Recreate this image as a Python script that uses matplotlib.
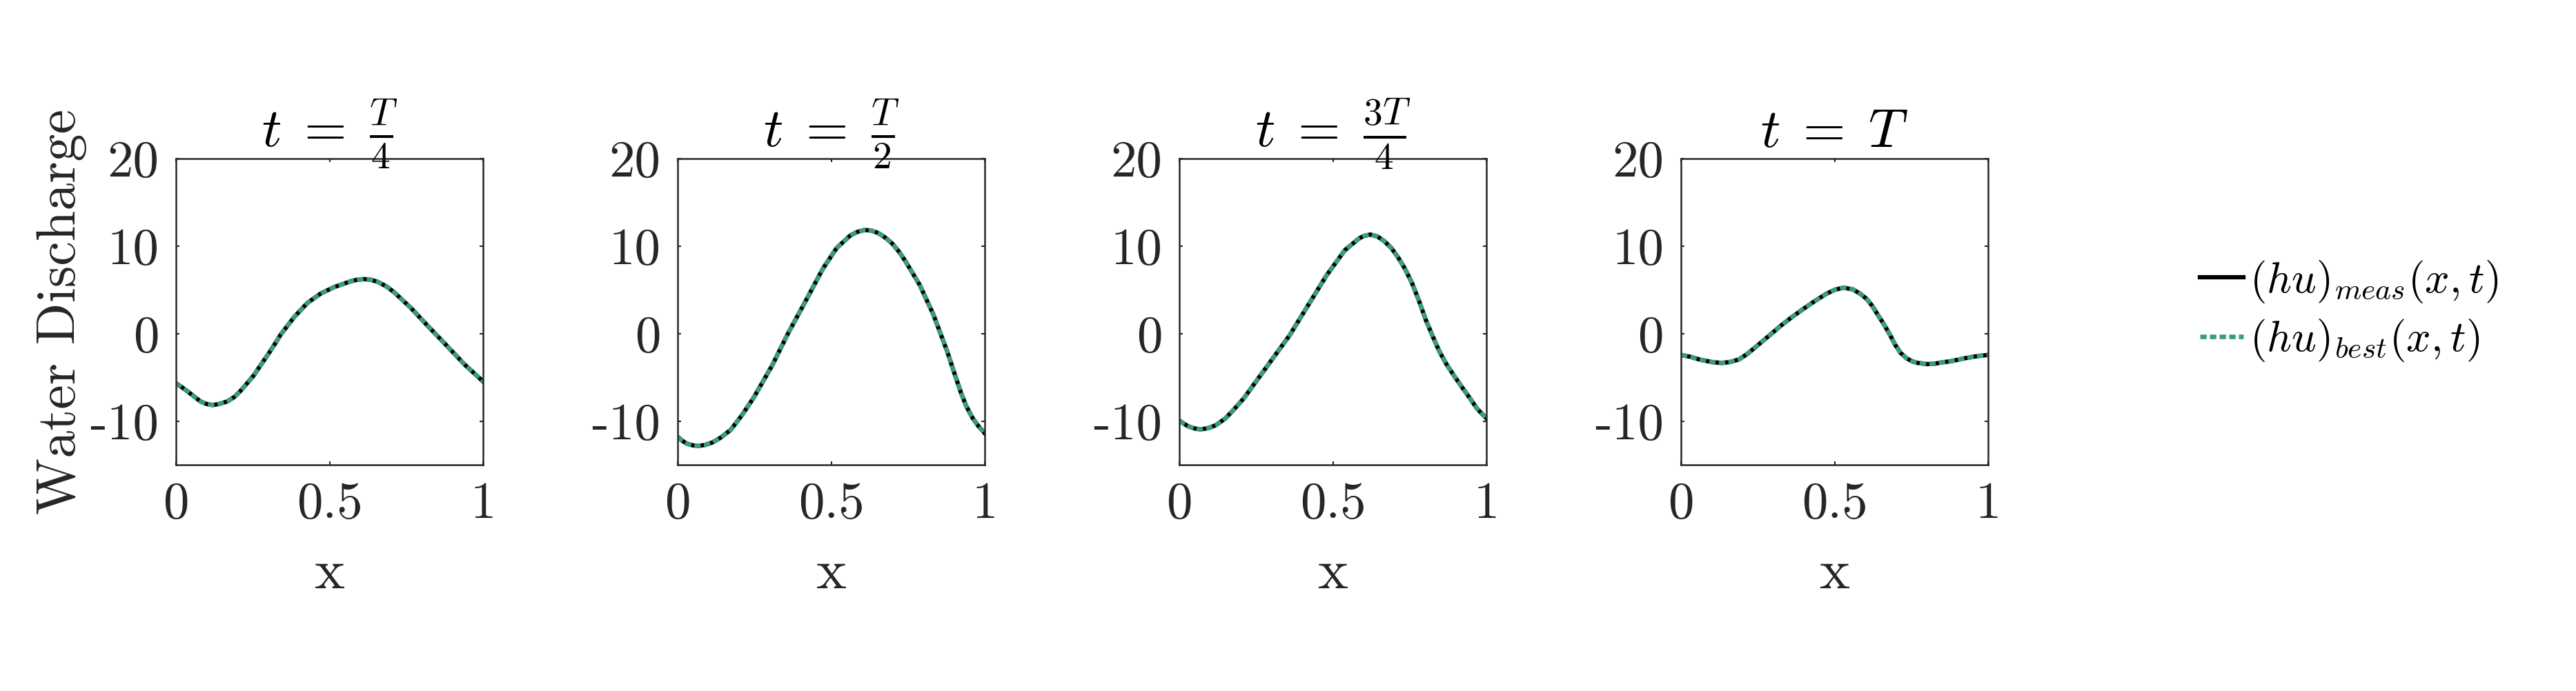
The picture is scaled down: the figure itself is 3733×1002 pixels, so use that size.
import numpy as np
import matplotlib
matplotlib.use("Agg")
import matplotlib.pyplot as plt

plt.rcParams['font.family'] = 'serif'
plt.rcParams['font.serif'] = ['cmr10']
plt.rcParams['mathtext.fontset'] = 'cm'
plt.rcParams['axes.unicode_minus'] = False

titles = [r'$t\;=\;\frac{T}{4}$', r'$t\;=\;\frac{T}{2}$', r'$t\;=\;\frac{3T}{4}$', r'$t\;=\;T$']

# values, one pair of lists per panel
x1 = [0.0, 0.02, 0.036, 0.08, 0.1, 0.12, 0.14, 0.167, 0.19, 0.21, 0.23, 0.254, 0.275,
      0.297, 0.32, 0.341, 0.385, 0.428, 0.472, 0.515, 0.57, 0.59, 0.613, 0.635, 0.657,
      0.685, 0.711, 0.766, 0.82, 0.875, 0.94, 1.0]
hu1 = [-5.67, -6.15, -6.56, -7.76, -8.05, -8.17, -8.05, -7.76, -7.25, -6.56, -5.75, -4.75, -3.65,
       -2.53, -1.3, -0.12, 1.89, 3.5, 4.59, 5.31, 5.99, 6.15, 6.23, 6.15, 5.91,
       5.4, 4.71, 2.9, 0.88, -1.13, -3.54, -5.47]

x2 = [0.0, 0.015, 0.03, 0.05, 0.068, 0.09, 0.113, 0.14, 0.173, 0.21, 0.248, 0.308, 0.36,
      0.413, 0.473, 0.518, 0.563, 0.585, 0.608, 0.63, 0.653, 0.675, 0.698, 0.72, 0.743,
      0.788, 0.833, 0.878, 0.9, 0.923, 0.94, 0.961, 0.98, 1.0]
hu2 = [-11.79, -12.25, -12.58, -12.78, -12.84, -12.72, -12.45, -11.9, -11.0, -9.3, -7.3, -3.63, 0.05,
       3.47, 7.42, 9.79, 11.24, 11.62, 11.84, 11.78, 11.5, 11.0, 10.32, 9.4, 8.21,
       5.58, 2.16, -2.05, -4.4, -6.79, -8.3, -9.68, -10.6, -11.39]

x3 = [0.0, 0.015, 0.029, 0.05, 0.07, 0.095, 0.119, 0.15, 0.179, 0.21, 0.239, 0.299, 0.359,
      0.419, 0.479, 0.539, 0.584, 0.6, 0.622, 0.645, 0.667, 0.69, 0.712, 0.735, 0.757,
      0.78, 0.802, 0.825, 0.847, 0.87, 0.892, 0.92, 0.945, 0.97, 1.0]
hu3 = [-9.95, -10.3, -10.6, -10.85, -10.95, -10.8, -10.47, -9.7, -8.63, -7.4, -6.0, -3.1, -0.21,
       3.21, 6.63, 9.53, 10.84, 11.15, 11.32, 11.1, 10.58, 9.8, 8.74, 7.4, 5.84,
       3.8, 1.63, -0.3, -2.05, -3.5, -4.68, -6.1, -7.32, -8.6, -9.68]

x4 = [0.0, 0.03, 0.061, 0.1, 0.132, 0.16, 0.188, 0.215, 0.248, 0.285, 0.323, 0.36, 0.398,
      0.435, 0.472, 0.5, 0.529, 0.56, 0.585, 0.605, 0.622, 0.64, 0.66, 0.68, 0.697,
      0.715, 0.735, 0.755, 0.772, 0.802, 0.825, 0.847, 0.88, 0.922, 0.96, 1.0]
hu4 = [-2.44, -2.65, -2.97, -3.25, -3.36, -3.25, -2.97, -2.35, -1.39, -0.3, 0.84, 1.85, 2.81,
       3.7, 4.52, 5.0, 5.25, 5.05, 4.52, 3.95, 3.2, 2.2, 1.1, -0.1, -1.26,
       -2.2, -2.84, -3.2, -3.36, -3.49, -3.45, -3.31, -3.15, -2.84, -2.6, -2.44]

xs = [x1, x2, x3, x4]
hu_meas = [hu1, hu2, hu3, hu4]
hu_best = [hu1, hu2, hu3, hu4]  # best fit lies on top of the measurement

xticks = [0, 0.5, 1]
xticklabels = ['0', '0.5', '1']
yticks = [-10, 0, 10, 20]
yticklabels = ['-10', '0', '10', '20']

green = '#3a9e74'
axcol = '#262626'

W, H = 3733, 1002
fig = plt.figure(figsize=(W / 300, H / 300), dpi=300)

lefts = [255, 982, 1709, 2436]
for i in range(4):
    ax = fig.add_axes([lefts[i] / W, 1 - 674 / H, 445 / W, 444 / H])
    l1, = ax.plot(xs[i], hu_meas[i], color='black', lw=1.5, solid_joinstyle='round')
    l2, = ax.plot(xs[i], hu_best[i], color=green, lw=1.6, linestyle=(0, (1.4, 0.7)))
    ax.set_xlim(0, 1)
    ax.set_ylim(-15, 20)
    ax.set_xticks(xticks)
    ax.set_xticklabels(xticklabels)
    ax.set_yticks(yticks)
    ax.set_yticklabels(yticklabels)
    ax.tick_params(direction='in', top=True, right=True, length=1.3, width=0.5,
                   labelsize=18, colors=axcol, pad=6)
    for s in ax.spines.values():
        s.set_linewidth(0.6)
        s.set_color(axcol)
    ax.set_title(titles[i], fontsize=19, pad=4)
    ax.set_xlabel('x', fontsize=20, color=axcol, labelpad=7)
    if i == 0:
        ax.set_ylabel('Water Discharge', fontsize=19.2, color=axcol)
        ax.yaxis.set_label_coords(-0.29, 0.5)

fig.legend([l1, l2], [r'$(hu)_{meas}(x,t)$', r'$(hu)_{best}(x,t)$'],
           loc='center left', bbox_to_anchor=(3188 / W, 1 - 451 / H),
           frameon=False, fontsize=15, handlelength=1.0, handletextpad=0.15,
           borderpad=0, borderaxespad=0, labelspacing=0.3)

fig.savefig('out.png', dpi=300)
